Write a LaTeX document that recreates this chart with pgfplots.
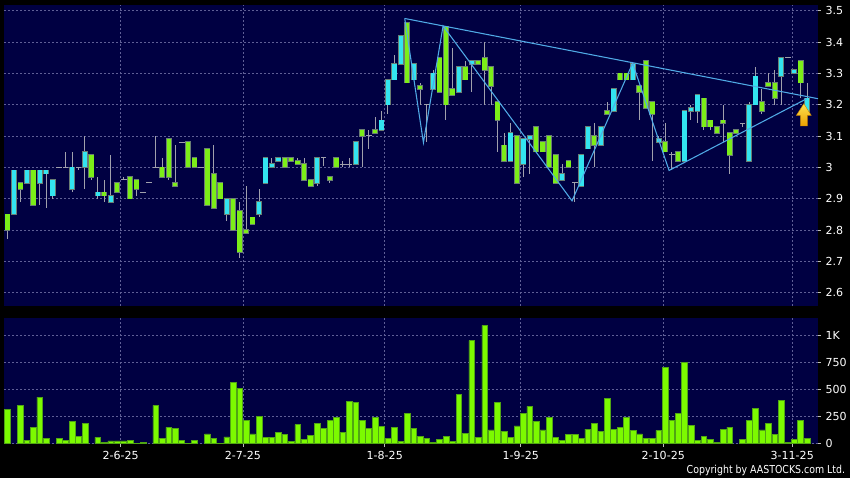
\documentclass[border=0pt]{standalone}
\usepackage{pgfplots}
\pgfplotsset{compat=1.18}
\usepackage{pgfplotstable}
\usepackage{fontspec}
\setmainfont{DejaVu Sans}
\newfontfamily\narrowfont[FakeStretch=0.86]{DejaVu Sans}
\definecolor{navy}{RGB}{0,0,66}
\definecolor{gridc}{RGB}{95,95,150}
\definecolor{cyanb}{RGB}{51,228,240}
\definecolor{greenb}{RGB}{124,238,24}
\definecolor{edgec}{RGB}{105,125,115}
\definecolor{wickc}{RGB}{160,160,172}
\definecolor{trend}{RGB}{80,170,230}
\definecolor{volg}{RGB}{124,250,0}
\definecolor{vole}{RGB}{80,165,20}
\definecolor{tickc}{RGB}{190,190,190}

% cyan (rising) candles: index, low, high, body bottom, body top
\pgfplotstableread{
i L H B T
1 2.85 2.99 2.85 2.99
3 2.95 2.99 2.95 2.99
5 2.88 2.99 2.95 2.99
6 2.87 2.99 2.98 2.99
7 2.90 2.96 2.91 2.96
10 2.92 3.05 2.93 3.00
12 2.93 3.10 3.00 3.05
14 2.90 2.97 2.91 2.92
16 2.89 3.04 2.89 2.91
34 2.83 2.90 2.85 2.90
39 2.84 2.93 2.85 2.89
40 2.95 3.03 2.95 3.03
41 3.00 3.03 3.00 3.01
42 3.02 3.03 3.02 3.03
48 2.94 3.03 2.95 3.03
54 3.01 3.08 3.01 3.08
58 3.12 3.18 3.12 3.15
59 3.17 3.28 3.20 3.28
60 3.28 3.36 3.28 3.33
61 3.33 3.42 3.33 3.42
63 3.28 3.33 3.28 3.33
66 3.25 3.31 3.25 3.30
70 3.24 3.32 3.24 3.32
72 3.24 3.34 3.33 3.34
78 3.02 3.14 3.02 3.11
80 2.97 3.09 3.01 3.09
81 2.98 3.10 3.09 3.10
86 2.96 3.01 2.96 2.98
89 2.94 3.04 2.94 3.04
90 3.06 3.13 3.06 3.13
92 3.07 3.13 3.07 3.13
94 3.18 3.25 3.18 3.25
97 3.28 3.33 3.28 3.33
101 3.08 3.10 3.08 3.09
105 3.02 3.18 3.02 3.18
106 3.15 3.20 3.18 3.19
107 3.14 3.23 3.18 3.23
115 3.02 3.21 3.02 3.20
116 3.20 3.32 3.20 3.29
120 3.20 3.35 3.29 3.35
122 3.30 3.31 3.30 3.31
124 3.18 3.27 3.18 3.22
}\cyantab

% green (falling) candles
\pgfplotstableread{
i L H B T
0 2.77 2.85 2.80 2.85
2 2.89 2.95 2.93 2.95
4 2.88 2.99 2.88 2.99
13 2.96 3.04 2.97 3.04
15 2.89 2.96 2.91 2.92
17 2.92 2.95 2.92 2.95
19 2.90 2.97 2.90 2.97
20 2.91 2.96 2.93 2.96
24 2.97 3.03 2.97 3.00
25 2.96 3.09 2.97 3.09
26 2.94 3.07 2.94 2.95
28 3.00 3.08 3.00 3.08
29 3.00 3.03 3.00 3.03
31 2.88 3.06 2.88 3.06
32 2.87 3.07 2.87 2.98
33 2.90 2.95 2.90 2.95
35 2.80 2.90 2.80 2.90
36 2.71 2.89 2.73 2.86
37 2.79 2.94 2.79 2.80
38 2.82 2.84 2.82 2.84
43 3.00 3.03 3.00 3.03
44 3.02 3.03 3.02 3.03
45 3.01 3.03 3.01 3.02
46 2.96 3.03 2.96 3.01
47 2.94 2.96 2.94 2.96
50 2.95 2.97 2.96 2.97
51 3.00 3.03 3.00 3.03
55 3.00 3.12 3.10 3.12
57 3.11 3.16 3.11 3.12
62 3.27 3.46 3.27 3.46
64 3.20 3.27 3.25 3.26
67 3.24 3.35 3.24 3.35
68 3.15 3.45 3.20 3.45
69 3.23 3.38 3.23 3.25
71 3.28 3.34 3.28 3.32
73 3.33 3.34 3.33 3.34
74 3.20 3.40 3.31 3.35
75 3.20 3.32 3.26 3.32
76 3.05 3.21 3.15 3.21
77 3.02 3.11 3.02 3.07
79 2.95 3.10 2.95 3.10
82 3.05 3.13 3.05 3.13
83 3.05 3.08 3.05 3.08
84 3.00 3.10 3.00 3.10
85 2.95 3.04 2.95 3.04
87 3.00 3.02 3.00 3.02
91 3.00 3.14 3.07 3.10
93 3.17 3.21 3.17 3.18
95 3.28 3.30 3.28 3.30
96 3.28 3.30 3.28 3.30
98 3.15 3.26 3.24 3.26
99 3.19 3.34 3.19 3.34
100 3.02 3.21 3.17 3.21
102 3.05 3.14 3.05 3.08
104 3.02 3.05 3.02 3.05
108 3.12 3.22 3.13 3.22
109 3.12 3.15 3.13 3.15
110 3.11 3.13 3.11 3.13
111 3.08 3.20 3.14 3.15
112 2.98 3.11 3.04 3.11
113 3.11 3.12 3.11 3.12
117 3.17 3.25 3.18 3.21
118 3.26 3.30 3.26 3.27
119 3.20 3.31 3.22 3.27
123 3.22 3.34 3.27 3.34
}\greentab

% unchanged (open = close) days
\pgfplotstableread{
i L H B
8 3.00 3.00 3.00
9 3.00 3.05 3.00
11 2.99 3.00 3.00
18 2.96 2.97 2.96
21 2.92 2.92 2.92
22 2.95 2.95 2.95
23 3.00 3.10 3.00
27 3.08 3.08 3.08
30 3.00 3.00 3.00
49 3.005 3.03 3.03
52 3.00 3.02 3.01
53 3.00 3.03 3.01
56 3.06 3.12 3.10
65 3.08 3.20 3.20
88 2.89 2.95 2.95
103 2.99 3.05 3.04
114 3.13 3.14 3.14
121 3.35 3.35 3.35
}\dojitab

% volume (thousand shares)
\pgfplotstableread{
i v
0 315
2 358
3 28
4 151
5 432
6 52
8 52
9 34
10 207
11 65
12 185
14 59
15 12
16 25
17 25
18 25
19 28
20 6
21 9
23 355
24 52
25 151
26 145
27 31
28 6
29 34
31 90
32 49
33 6
34 62
35 568
36 515
37 213
38 90
39 256
40 59
41 59
42 102
43 83
44 22
45 176
46 43
47 80
48 191
49 139
50 219
51 241
52 108
53 395
54 383
55 219
56 145
57 247
58 157
59 49
60 151
61 22
62 284
63 145
64 70
65 50
66 12
67 37
68 68
69 22
70 460
71 93
72 954
73 56
74 1096
75 127
76 386
77 117
78 59
79 164
80 278
81 346
82 207
83 127
84 247
85 59
86 31
87 86
88 83
89 52
90 136
91 188
92 117
93 420
94 133
95 148
96 244
97 123
98 90
99 52
100 52
101 123
102 710
103 219
104 281
105 753
106 170
107 28
108 71
109 40
110 12
111 130
112 154
114 40
115 219
116 327
117 127
118 191
119 83
120 404
121 15
122 40
123 219
124 52
}\voltab

\pgfplotsset{
  chartbase/.style={
    scale only axis, width=610.5pt,
    axis background/.style={fill=navy},
    xmin=-0.55, xmax=125.7,
    axis line style={draw=none},
    xmajorgrids, ymajorgrids,
    major grid style={gridc, line width=0.5pt, dash pattern=on 1.5pt off 1.5pt},
    ytick pos=right, yticklabel pos=right,
    xtick pos=bottom,
    tick align=outside,
    major tick length=2.2pt,
    tick style={tickc, line width=0.5pt},
    ticklabel style={font=\fontsize{8.3}{9}\selectfont, text=white},
    xtick={17.55,36.5,58.5,79.6,101.7,121.7},
  },
  wicks/.style={draw=none, mark=none, forget plot,
    error bars/.cd, y dir=both, y explicit, error mark=none,
    error bar style={wickc, line width=0.75pt}},
  bodyedge/.style={draw=none, mark=none, forget plot,
    error bars/.cd, y dir=plus, y explicit, error mark=none,
    error bar style={edgec, line width=4.4pt}},
  bodyfill/.style={draw=none, mark=none, forget plot,
    error bars/.cd, y dir=plus, y explicit, error mark=none,
    error bar style={#1, line width=3.3pt}},
}

\begin{document}
\begin{tikzpicture}
\fill[black] (0,0) rectangle (637.5pt,358.5pt);

% ---------- price panel ----------
\begin{axis}[chartbase,
  at={(3pt,129pt)}, anchor=south west,
  height=225.75pt,
  ymin=2.5575, ymax=3.518,
  ytick={2.6,2.7,2.8,2.9,3.0,3.1,3.2,3.3,3.4,3.5},
  yticklabels={2.6,2.7,2.8,2.9,3,3.1,3.2,3.3,3.4,3.5},
  xticklabels={}, xtick style={draw=none},
]
\addplot[wicks] table[x=i, y=B, y error plus expr=\thisrow{H}-\thisrow{B}, y error minus expr=\thisrow{B}-\thisrow{L}] {\cyantab};
\addplot[wicks] table[x=i, y=B, y error plus expr=\thisrow{H}-\thisrow{B}, y error minus expr=\thisrow{B}-\thisrow{L}] {\greentab};
\addplot[wicks] table[x=i, y=B, y error plus expr=\thisrow{H}-\thisrow{B}, y error minus expr=\thisrow{B}-\thisrow{L}] {\dojitab};
\addplot[draw=none, mark=none, forget plot,
  error bars/.cd, x dir=both, x fixed=0.45, error mark=none,
  error bar style={wickc, line width=0.75pt}] table[x=i, y=B] {\dojitab};
% bodies
\addplot[bodyedge] table[x=i, y expr=\thisrow{B}-0.0025, y error plus expr=\thisrow{T}-\thisrow{B}+0.005] {\cyantab};
\addplot[bodyfill=cyanb] table[x=i, y=B, y error plus expr=\thisrow{T}-\thisrow{B}] {\cyantab};
\addplot[bodyedge] table[x=i, y expr=\thisrow{B}-0.0025, y error plus expr=\thisrow{T}-\thisrow{B}+0.005] {\greentab};
\addplot[bodyfill=greenb] table[x=i, y=B, y error plus expr=\thisrow{T}-\thisrow{B}] {\greentab};
% trend lines
\addplot[trend, line width=0.8pt, mark=none] coordinates {(61.6,3.475) (125.7,3.219)};
\addplot[trend, line width=0.8pt, mark=none] coordinates {(61.6,3.475) (64.5,3.079) (67.55,3.451) (87.55,2.893) (96.95,3.332) (102.6,2.99) (123.95,3.219)};
% arrow marker
\shade[top color={rgb,255:red,255;green,225;blue,80}, bottom color={rgb,255:red,235;green,160;blue,0}, draw={rgb,255:red,200;green,130;blue,0}, line width=0.3pt]
  (axis cs:123.5,3.203) -- (axis cs:124.65,3.166) -- (axis cs:124.05,3.166) -- (axis cs:124.05,3.132)
  -- (axis cs:122.95,3.132) -- (axis cs:122.95,3.166) -- (axis cs:122.35,3.166) -- cycle;
\end{axis}

% ---------- volume panel ----------
\begin{axis}[chartbase,
  at={(3pt,25.725pt)}, anchor=south west,
  height=94.05pt,
  ymin=0, ymax=1161,
  ytick={0,250,500,750,1000},
  yticklabels={0,250,500,750,1K},
  xticklabels={2-6-25,2-7-25,1-8-25,1-9-25,2-10-25,3-11-25},
]
\addplot[ybar, bar width=4.3pt, fill=volg, draw=vole, line width=0.4pt] table[x=i, y=v] {\voltab};
\end{axis}

\node[anchor=east, inner sep=0pt, text=white, font=\narrowfont\fontsize{8.2}{9}\selectfont] at (634pt,5.3pt) {Copyright by AASTOCKS.com Ltd.};

\pgfresetboundingbox
\path[use as bounding box] (0,0) rectangle (637.5pt,358.5pt);
\end{tikzpicture}
\end{document}
